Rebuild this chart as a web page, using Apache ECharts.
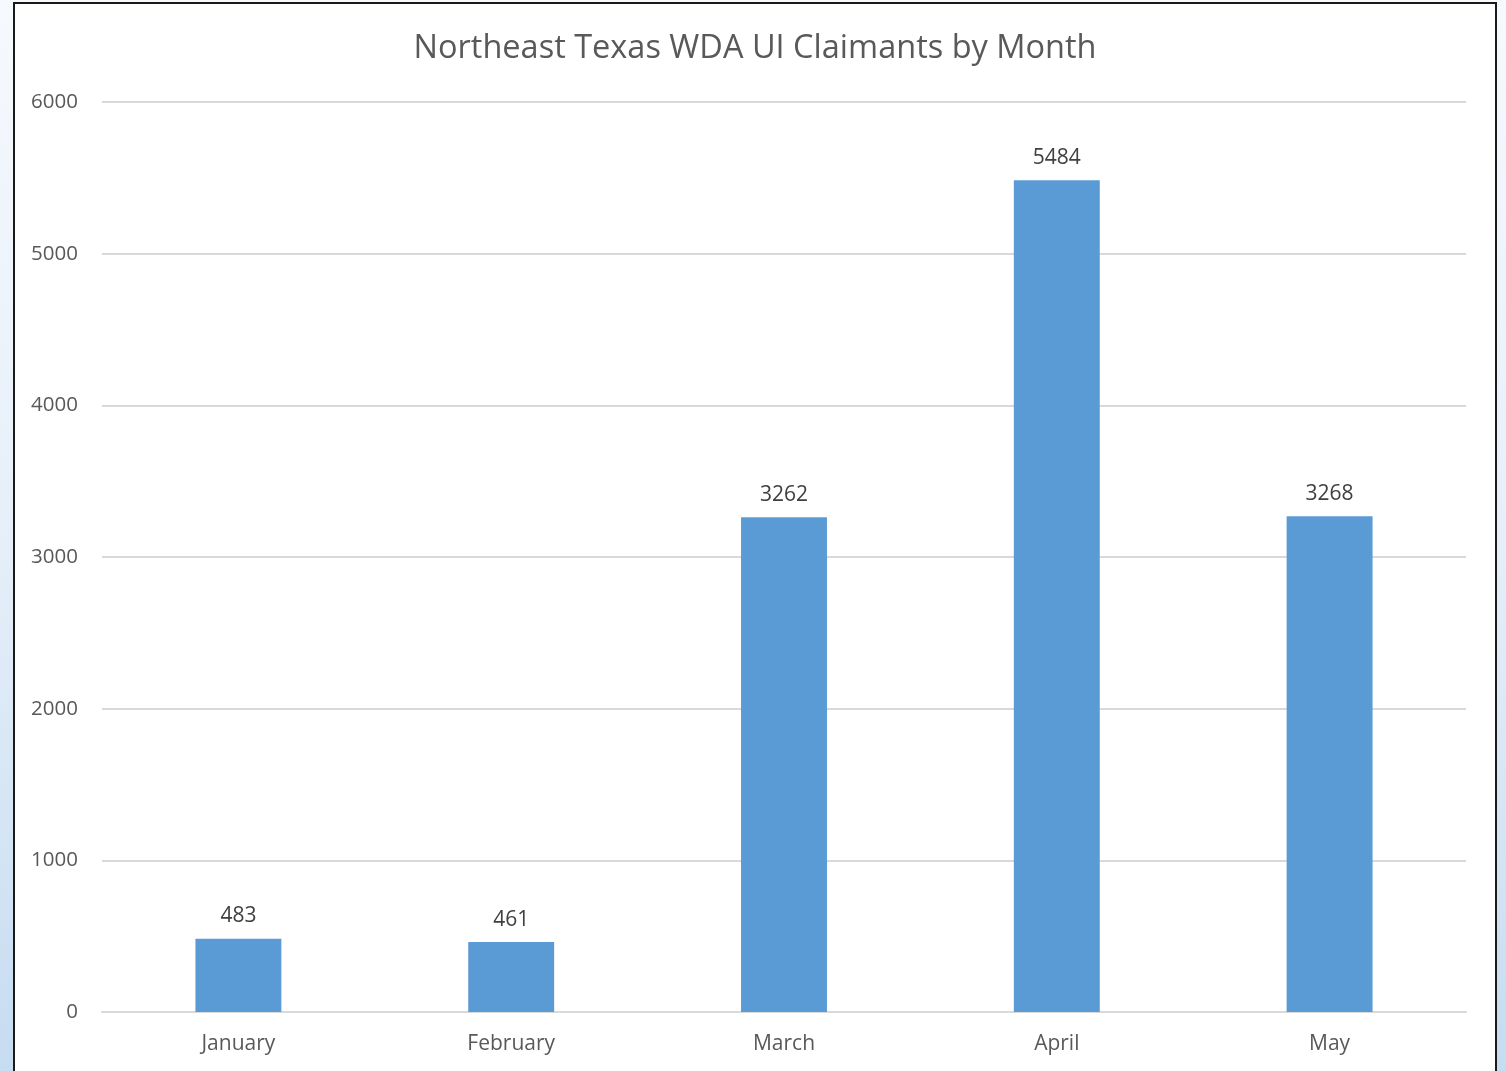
<!DOCTYPE html>
<html>
<head>
<meta charset="utf-8">
<script src="https://cdn.jsdelivr.net/npm/echarts@6/dist/echarts.min.js"></script>
<style>
html,body{margin:0;padding:0;width:1506px;height:1071px;overflow:hidden;}
body{background:linear-gradient(to bottom,#f6f9fd 0%,#e6eff9 50%,#c6dcf1 100%);position:relative;}
#frame{position:absolute;left:13px;top:2px;width:1484px;height:1100px;box-sizing:border-box;border:2px solid #1a1a1a;background:#fff;}
#chart{position:absolute;left:0;top:0;width:1480px;height:1096px;}
</style>
</head>
<body>
<div id="frame"><div id="chart"></div></div>
<script>
const categories = ['January', 'February', 'March', 'April', 'May'];
const claimants = [483, 461, 3262, 5484, 3268];
const yTicks = [0, 1000, 2000, 3000, 4000, 5000, 6000];

const chart = echarts.init(document.getElementById('chart'), null, {renderer: 'canvas'});
const fontFam = '"Open Sans", "Noto Sans", sans-serif';
chart.setOption({
  animation: false,
  backgroundColor: '#ffffff',
  title: {
    text: 'Northeast Texas WDA UI Claimants by Month',
    left: 'center',
    top: 23,
    textStyle: {color: '#595959', fontFamily: fontFam, fontWeight: 'normal', fontSize: 32.5}
  },
  grid: {left: 87, right: 29, top: 98, height: 910, containLabel: false},
  xAxis: {
    type: 'category',
    data: categories,
    axisLine: {show: true, lineStyle: {color: '#d9d9d9', width: 2}},
    axisTick: {show: false},
    axisLabel: {color: '#595959', fontFamily: fontFam, fontSize: 21, margin: 22}
  },
  yAxis: {
    type: 'value',
    min: yTicks[0],
    max: yTicks[yTicks.length - 1],
    interval: 1000,
    axisLine: {show: false},
    axisTick: {show: false},
    splitLine: {lineStyle: {color: '#d9d9d9', width: 2}},
    axisLabel: {color: '#595959', fontFamily: fontFam, fontSize: 20.5, margin: 24, formatter: v => String(v)}
  },
  series: [{
    type: 'bar',
    data: claimants,
    barWidth: '31.5%',
    itemStyle: {color: '#5b9bd5'},
    label: {show: true, position: 'top', distance: 12, color: '#404040', fontFamily: fontFam, fontSize: 21}
  }]
});
</script>
</body>
</html>
